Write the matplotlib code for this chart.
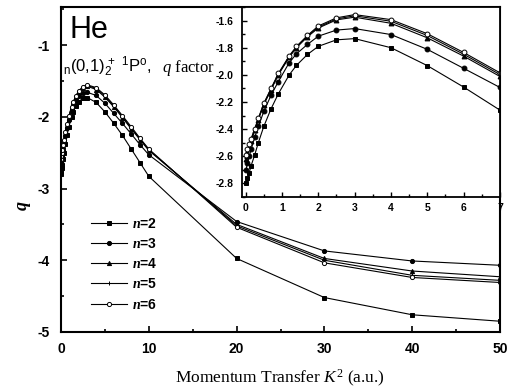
import matplotlib
matplotlib.use("Agg")
import matplotlib.pyplot as plt
from matplotlib.ticker import MultipleLocator

plt.rcParams['mathtext.fontset'] = 'custom'
plt.rcParams['mathtext.rm'] = 'Liberation Serif:normal'
plt.rcParams['mathtext.it'] = 'Liberation Serif:italic:normal'
plt.rcParams['mathtext.cal'] = 'Liberation Serif:italic:bold'
plt.rcParams['mathtext.sf'] = 'Liberation Sans:normal'
plt.rcParams['mathtext.bf'] = 'Liberation Sans:bold'
plt.rcParams['font.family'] = ['Liberation Sans', 'DejaVu Sans']
plt.rcParams['font.weight'] = 'bold'
plt.rcParams['axes.unicode_minus'] = False

# momentum transfer grid (a.u.)
k2 = [0.01, 0.05, 0.1, 0.15, 0.25, 0.35, 0.5, 0.7, 0.9, 1.2, 1.4, 1.7, 2.0, 2.5, 3.0,
      4, 5, 6, 7, 8, 9, 10, 20, 30, 40, 50]

q_n2 = [-2.80, -2.76, -2.72, -2.67, -2.59, -2.50, -2.38, -2.25, -2.14, -2.00, -1.93, -1.85, -1.79,
        -1.742, -1.733, -1.80, -1.932, -2.09, -2.26, -2.45, -2.64, -2.83, -3.975, -4.52, -4.76, -4.85]
q_n3 = [-2.70, -2.65, -2.60, -2.55, -2.46, -2.38, -2.27, -2.15, -2.05, -1.91, -1.845, -1.776, -1.715,
        -1.67, -1.659, -1.703, -1.812, -1.952, -2.093, -2.24, -2.39, -2.53, -3.46, -3.87, -4.01, -4.07]
q_n4 = [-2.62, -2.58, -2.53, -2.49, -2.41, -2.33, -2.22, -2.11, -2.00, -1.87, -1.80, -1.72, -1.655,
        -1.595, -1.575, -1.62, -1.727, -1.862, -2.012, -2.17, -2.32, -2.47, -3.50, -3.975, -4.15, -4.23]
q_n5 = [-2.61, -2.57, -2.52, -2.48, -2.40, -2.325, -2.215, -2.105, -1.995, -1.865, -1.795, -1.715, -1.648,
        -1.588, -1.565, -1.605, -1.71, -1.848, -1.998, -2.16, -2.31, -2.46, -3.52, -4.00, -4.21, -4.28]
q_n6 = [-2.59, -2.55, -2.51, -2.47, -2.40, -2.32, -2.21, -2.10, -1.99, -1.86, -1.79, -1.71, -1.64,
        -1.58, -1.556, -1.593, -1.697, -1.835, -1.985, -2.14, -2.30, -2.45, -3.54, -4.036, -4.24, -4.31]

labels = [r'$\mathcal{n}$=2', r'$\mathcal{n}$=3', r'$\mathcal{n}$=4', r'$\mathcal{n}$=5', r'$\mathcal{n}$=6']
series = [q_n2, q_n3, q_n4, q_n5, q_n6]
markers = ['s', 'o', '^', '+', 'o']
fills = ['k', 'k', 'k', 'k', 'white']

fig = plt.figure(figsize=(5.14, 3.91), dpi=100)
ax = fig.add_axes([0.1187, 0.1509, 0.8541, 0.8312])

for q, m, fc, lab in zip(series, markers, fills, labels):
    ax.plot(k2, q, color='k', lw=0.8, marker=m, ms=3, mfc=fc, mec='k', mew=0.7, label=lab)

ax.set_xlim(0, 50)
ax.set_ylim(-5, -0.47)
ax.xaxis.set_major_locator(MultipleLocator(10))
ax.xaxis.set_minor_locator(MultipleLocator(5))
ax.yaxis.set_major_locator(MultipleLocator(1))
ax.yaxis.set_minor_locator(MultipleLocator(0.5))
ax.tick_params(which='both', direction='in', width=1.2, labelsize=10)
ax.tick_params(which='major', length=4)
ax.tick_params(which='minor', length=2)
ax.tick_params(axis='y', pad=8)
ax.tick_params(axis='x', pad=7)
for s in ax.spines.values():
    s.set_linewidth(1.5)

leg = ax.legend(loc='upper left', bbox_to_anchor=(85 / 514, 1 - 211 / 391),
                bbox_transform=fig.transFigure, frameon=False, handlelength=2.6,
                handletextpad=0.4, labelspacing=0.45, borderaxespad=0,
                prop={'family': 'Liberation Sans', 'weight': 'bold', 'size': 10})

# inset
axi = fig.add_axes([0.4708, 0.4962, 0.5019, 0.4859])
axi.set_facecolor('white')
for q, m, fc in zip(series, markers, fills):
    axi.plot(k2, q, color='k', lw=0.8, marker=m, ms=3.5, mfc=fc, mec='k', mew=0.7)
axi.set_xlim(-0.1, 7)
axi.set_ylim(-2.9, -1.5)
axi.xaxis.set_major_locator(MultipleLocator(1))
axi.xaxis.set_minor_locator(MultipleLocator(0.5))
axi.yaxis.set_major_locator(MultipleLocator(0.2))
axi.yaxis.set_minor_locator(MultipleLocator(0.1))
axi.tick_params(which='both', direction='in', width=1.0, labelsize=7.5)
axi.tick_params(which='major', length=3.5)
axi.tick_params(which='minor', length=2)
axi.tick_params(axis='y', pad=6)
axi.tick_params(axis='x', pad=4)
axi.yaxis.set_major_formatter(plt.FuncFormatter(lambda v, p: f'{v:.1f}'))
for s in axi.spines.values():
    s.set_linewidth(1.3)

# annotations
fig.text(70 / 514, 1 - 38 / 391, 'He', fontsize=22, family='Liberation Sans',
         weight='normal', va='baseline')
fig.text(63 / 514, 1 - 72 / 391, r'$\mathsf{_n}$(0,1)$\mathsf{_2^{\,+}}$ $\mathsf{^1}$P$\mathsf{^o}$,',
         fontsize=12, family='Liberation Sans', weight='normal', va='baseline')
fig.text(162 / 514, 1 - 72 / 391, r'$q$ factor', fontsize=12, family='Liberation Serif',
         weight='normal', va='baseline')
fig.text(22 / 514, 1 - 205 / 391, 'q', fontsize=13, family='Liberation Serif', style='italic',
         weight='bold', rotation=90, ha='center', va='center')
fig.text(280 / 514, 1 - 378 / 391, r'Momentum Transfer $K^2$ (a.u.)', fontsize=12.5,
         family='Liberation Serif', weight='normal', ha='center', va='center')

plt.savefig('out.png', dpi=100)
plt.close()
